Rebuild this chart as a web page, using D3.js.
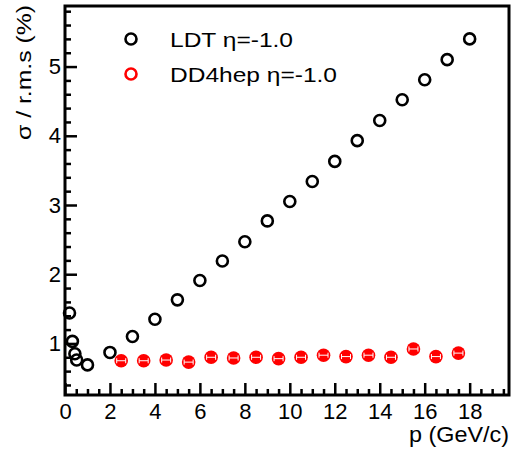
<!DOCTYPE html>
<html>
<head>
<meta charset="utf-8">
<script src="https://cdnjs.cloudflare.com/ajax/libs/d3/7.8.5/d3.min.js"></script>
<style>
  body { margin: 0; background: #fff; }
  text { font-family: "Liberation Sans", Arial, sans-serif; }
</style>
</head>
<body>
<svg width="512" height="452"></svg>
<script>

// LDT eta=-1.0 (open black circles)
var ldtP   = [0.2, 0.33, 0.44, 0.52, 1, 2, 3, 4, 5, 6, 7, 8, 9, 10, 11, 12, 13, 14, 15, 16, 17, 18];
var ldtRes = [1.44, 1.03, 0.85, 0.76, 0.69, 0.87, 1.10, 1.35, 1.63, 1.91, 2.19, 2.47, 2.77, 3.05, 3.34, 3.63, 3.93, 4.22, 4.52, 4.81, 5.10, 5.40];

// DD4hep eta=-1.0 (red)
var ddP   = [2.5, 3.5, 4.5, 5.5, 6.5, 7.5, 8.5, 9.5, 10.5, 11.5, 12.5, 13.5, 14.5, 15.5, 16.5, 17.5];
var ddRes = [0.75, 0.75, 0.76, 0.73, 0.80, 0.79, 0.80, 0.78, 0.80, 0.83, 0.81, 0.83, 0.80, 0.92, 0.81, 0.86];
var ddErr = [0.2, 0.2, 0.2, 0.2, 0.2, 0.2, 0.2, 0.2, 0.2, 0.2, 0.2, 0.2, 0.2, 0.2, 0.2, 0.2];

var xMajor = [0, 2, 4, 6, 8, 10, 12, 14, 16, 18];
var yMajor = [1, 2, 3, 4, 5];
var legendNames = ["LDT \u03b7=-1.0", "DD4hep \u03b7=-1.0"];

var svg = d3.select("svg");
var mLeft = 65, mRight = 509, mTop = 6, mBottom = 395;

var x = d3.scaleLinear().domain([0, 19.75]).range([mLeft, mRight]);
var y = d3.scaleLinear().domain([0.255, 5.875]).range([mBottom, mTop]);

var xMinor = d3.range(0, 19.76, 0.5).filter(function(v){ return v % 2 !== 0; });
var yMinor = d3.range(0.4, 5.81, 0.2).filter(function(v){ return Math.abs(v - Math.round(v)) > 0.01; });

// minor ticks
svg.append("g")
    .attr("transform", "translate(0," + mBottom + ")")
    .call(d3.axisBottom(x).tickValues(xMinor).tickSize(-6).tickFormat(""))
    .call(function(g){ g.select(".domain").remove(); })
    .selectAll("line").attr("stroke-width", 2.5);

svg.append("g")
    .attr("transform", "translate(" + mLeft + ",0)")
    .call(d3.axisLeft(y).tickValues(yMinor).tickSize(-6).tickFormat(""))
    .call(function(g){ g.select(".domain").remove(); })
    .selectAll("line").attr("stroke-width", 2.5);

// major ticks
var xAxis = svg.append("g")
    .attr("transform", "translate(0," + mBottom + ")")
    .call(d3.axisBottom(x).tickValues(xMajor).tickSize(-12).tickPadding(8).tickFormat(d3.format("d")));
xAxis.select(".domain").remove();
xAxis.attr("font-family", null).attr("font-size", null);
xAxis.selectAll("line").attr("stroke-width", 2.5);
xAxis.selectAll("text").attr("font-size", 22).attr("fill", "#000");

var yAxis = svg.append("g")
    .attr("transform", "translate(" + mLeft + ",0)")
    .call(d3.axisLeft(y).tickValues(yMajor).tickSize(-12).tickPadding(4).tickFormat(d3.format("d")));
yAxis.select(".domain").remove();
yAxis.attr("font-family", null).attr("font-size", null);
yAxis.selectAll("line").attr("stroke-width", 2.5);
yAxis.selectAll("text").attr("font-size", 22).attr("fill", "#000");

// frame
svg.append("rect")
    .attr("x", mLeft).attr("y", mTop)
    .attr("width", mRight - mLeft).attr("height", mBottom - mTop)
    .attr("fill", "none").attr("stroke", "#000").attr("stroke-width", 3);

// axis titles (the original font runs a bit wider)
svg.append("text")
    .attr("x", mRight).attr("y", 442)
    .attr("text-anchor", "end")
    .attr("font-size", 22)
    .attr("textLength", 100)
    .attr("lengthAdjust", "spacingAndGlyphs")
    .text("p (GeV/c)");

svg.append("text")
    .attr("transform", "translate(31," + (mTop - 1) + ") rotate(-90)")
    .attr("text-anchor", "end")
    .attr("font-size", 21)
    .attr("textLength", 135)
    .attr("lengthAdjust", "spacingAndGlyphs")
    .text("\u03c3 / r.m.s (%)");

// LDT points
svg.append("g").selectAll("circle")
    .data(ldtP)
  .enter().append("circle")
    .attr("cx", function(d) { return x(d); })
    .attr("cy", function(d, i) { return y(ldtRes[i]); })
    .attr("r", 5.5)
    .attr("fill", "none")
    .attr("stroke", "#000")
    .attr("stroke-width", 2.6);

// DD4hep points
var dd = svg.append("g").selectAll("g")
    .data(ddP)
  .enter().append("g")
    .attr("transform", function(d, i) { return "translate(" + x(d) + "," + y(ddRes[i]) + ")"; });

dd.append("circle")
    .attr("r", 6.8)
    .attr("fill", "#ff0000");

dd.append("path")
    .attr("d", function(d, i) {
        var w = x(ddErr[i]) - x(0);
        return "M" + (-w) + ",0H" + w + "M" + (-w) + ",-2.5V2.5M" + w + ",-2.5V2.5";
    })
    .attr("stroke", "#fff")
    .attr("stroke-width", 1)
    .attr("fill", "none");

// legend
var legColors = ["#000", "#ff0000"];
var legLengths = [123, 167];
var leg = svg.append("g").selectAll("g")
    .data(legendNames)
  .enter().append("g")
    .attr("transform", function(d, i) { return "translate(131," + (39 + i * 35) + ")"; });

leg.append("circle")
    .attr("r", 5.5)
    .attr("fill", "none")
    .attr("stroke", function(d, i) { return legColors[i]; })
    .attr("stroke-width", 2.6);

leg.append("text")
    .attr("x", 39)
    .attr("y", 7.5)
    .attr("font-size", 21)
    .attr("textLength", function(d, i) { return legLengths[i]; })
    .attr("lengthAdjust", "spacingAndGlyphs")
    .text(function(d) { return d; });

</script>
</body>
</html>
